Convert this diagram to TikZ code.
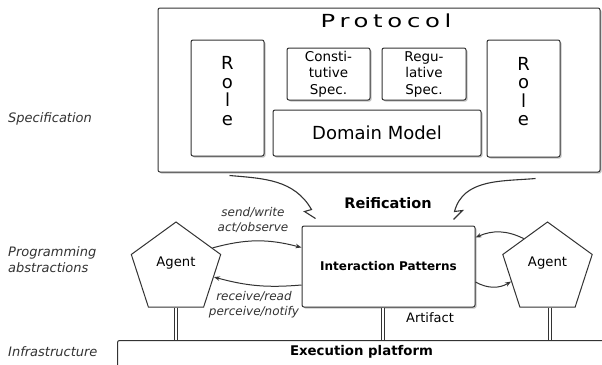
\documentclass[tikz,border=0pt]{standalone}
\usepackage{fontspec}
\setmainfont{DejaVu Sans}
\newfontfamily\titlefont[FakeStretch=1.35,LetterSpace=26]{DejaVu Sans}
\usetikzlibrary{arrows.meta,shapes.geometric,shadows}
\definecolor{color0}{HTML}{333333}
\definecolor{bgColor}{HTML}{ffffff}
\definecolor{shadowColor}{HTML}{8a8a8a}

\begin{document}
\begin{tikzpicture}
\tikzset{x=1pt,y=1pt}
\tikzset{
  box/.style={draw=color0, line width=1pt, rounded corners=2pt, fill=white, inner sep=0pt,
    drop shadow={shadow xshift=1.5pt, shadow yshift=-1.5pt, fill=shadowColor, opacity=0.5}},
  agentshape/.style={draw=color0, line width=1pt, fill=white, regular polygon, regular polygon sides=5, minimum size=94pt, inner sep=0pt},
  flow/.style={draw=color0, line width=1pt, -{Stealth[length=6pt,width=4.5pt]}},
  reif/.style={draw=color0, line width=1.1pt, line join=miter},
  link/.style={draw=color0, line width=0.8pt, double=white, double distance=1.6pt},
  layerlbl/.style={anchor=west, font=\fontsize{13}{16}\selectfont\itshape, align=left, text=color0, inner sep=0pt},
  flowlbl/.style={font=\fontsize{12}{15}\selectfont\itshape, align=center, text=color0, inner sep=0pt},
  rolelbl/.style={font=\fontsize{18}{18.5}\selectfont, align=center, inner sep=0pt},
  spec/.style={box, minimum width=83pt, minimum height=52pt, font=\fontsize{13.5}{16.5}\selectfont, align=center},
}
\clip (0,0) rectangle (602,-364);
\fill[bgColor] (0,0) rectangle (602,-364);

\node[box, minimum width=442pt, minimum height=164pt] (protocol) at (379,-90) {};
\node[font=\titlefont\fontsize{18}{20}\selectfont, inner sep=0pt] (title) at (386,-21) {Protocol};
\node[box, minimum width=73pt, minimum height=116pt] (lrole) at (227.5,-98) {};
\node[rolelbl] (lroletxt) at ([yshift=7pt]lrole.center) {R\\o\\l\\e};
\node[box, minimum width=73pt, minimum height=117pt] (rrole) at (523.5,-98.5) {};
\node[rolelbl] (rroletxt) at ([yshift=7pt]rrole.center) {R\\o\\l\\e};
\node[spec] (constspec) at (328.5,-74) {Consti-\\tutive\\Spec.};
\node[spec, minimum width=84pt] (regspec) at (424,-74) {Regu-\\lative\\Spec.};
\node[box, minimum width=208pt, minimum height=46pt, font=\fontsize{18}{20}\selectfont] (domain) at (377,-133) {Domain Model};

\node[font=\bfseries\fontsize{14.5}{16}\selectfont] (reiflbl) at (388,-203) {Reification};
\node[box, minimum width=173pt, minimum height=81pt, font=\bfseries\fontsize{12}{14}\selectfont] (interaction) at (388.5,-266.5) {Interaction Patterns};

\node[agentshape] (lagent) at (176,-269) {};
\node[font=\fontsize{13.2}{15}\selectfont] (lagenttxt) at ([yshift=6pt]lagent.center) {Agent};
\node[agentshape] (ragent) at (547.5,-269) {};
\node[font=\fontsize{13.2}{15}\selectfont] (ragenttxt) at ([yshift=6pt]ragent.center) {Agent};

\node[draw=color0, line width=1pt, rounded corners=2pt, minimum width=500pt, minimum height=60pt, anchor=north west] (platform) at (117,-340) {};
\node[font=\bfseries\fontsize{13.3}{15}\selectfont] (platformtxt) at (361.5,-352) {Execution platform};
\node[font=\fontsize{13}{15}\selectfont] (artifact) at (430,-318) {Artifact};

\coordinate (artlink) at ([xshift=-5.5pt]interaction.south);
\coordinate (rlink) at ([xshift=2.5pt]ragent.south);
\draw[link] (lagent.south) -- (lagent.south |- platform.north);
\draw[link] (artlink) -- (artlink |- platform.north);
\draw[link] (rlink) -- (rlink |- platform.north);

\draw[flow] (lagent.30) to[bend left=15] ([yshift=19pt]interaction.west);
\node[flowlbl] (sendlbl) at (253,-220) {send/write\\act/observe};
\draw[flow] ([yshift=-18.5pt]interaction.west) to[bend left=10] (lagent.-12);
\node[flowlbl] (recvlbl) at (254,-305) {receive/read\\perceive/notify};
\draw[flow] (ragent.128) to[bend right=25] ([yshift=29pt]interaction.east);
\draw[flow] ([yshift=-15.5pt]interaction.east) to[bend right=30] (ragent.199);

\coordinate (lreifa) at ([xshift=72pt,yshift=-3pt]protocol.south west);
\coordinate (lreifb) at ([xshift=10pt,yshift=16pt]interaction.north west);
\draw[reif] (lreifa) to[out=-5,in=120] (lreifb) -- ++(-7,-2) -- ++(11,-7);
\coordinate (rreifa) at ([xshift=-65pt,yshift=-6pt]protocol.south east);
\coordinate (rreifb) at ([xshift=-21pt,yshift=14pt]interaction.north east);
\draw[reif] (rreifa) to[out=185,in=75] (rreifb) -- ++(8,1) -- ++(-9,-9);

\node[layerlbl] (speclbl) at (8,-119) {Specification};
\node[layerlbl] (proglbl) at (8,-260) {Programming\\abstractions};
\node[layerlbl] (infralbl) at (8,-352) {Infrastructure};
\end{tikzpicture}
\end{document}
